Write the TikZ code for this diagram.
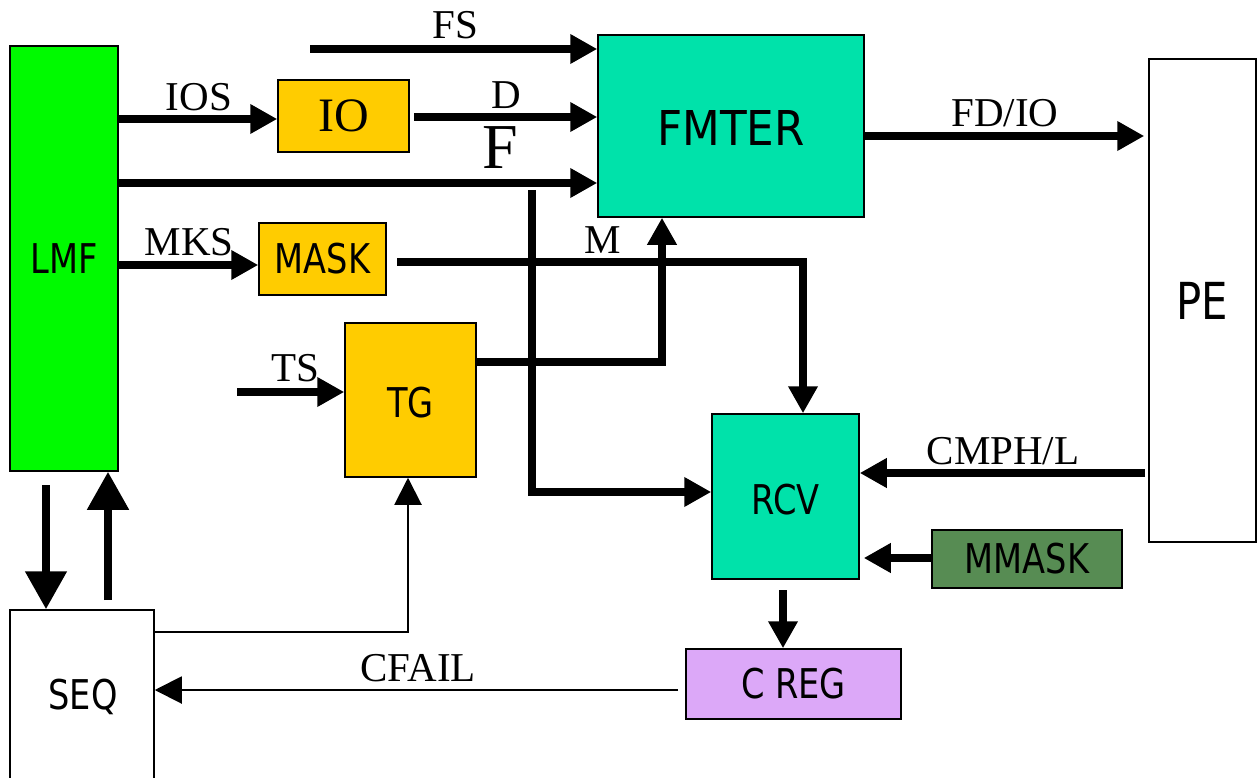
\documentclass[tikz,border=0pt]{standalone}
\usepackage{fontspec}
\setmainfont{Liberation Serif}
\newfontfamily\boxfont[FakeStretch=0.82]{DejaVu Sans}
\newfontfamily\boxfontw[FakeStretch=0.91]{DejaVu Sans}
\usetikzlibrary{arrows.meta,calc}
\definecolor{cgreen}{RGB}{0,250,0}
\definecolor{cyel}{RGB}{255,204,0}
\definecolor{cteal}{RGB}{0,226,170}
\definecolor{cdkgreen}{RGB}{87,140,83}
\definecolor{cviolet}{RGB}{220,168,248}
\tikzset{
  blk/.style={draw, line width=1.5pt, inner sep=0pt, font=\boxfont\fontsize{41}{41}\selectfont},
  btxt/.style={inner sep=0pt, font=\boxfont\fontsize{41}{41}\selectfont},
  sig/.style={inner sep=0pt, font=\fontsize{41}{41}\selectfont},
  thk/.style={line width=8pt, -{Triangle[length=27pt,width=28pt]}},
  big/.style={line width=8pt, -{Triangle[length=38pt,width=40pt]}},
  thn/.style={line width=2pt, -{Triangle[length=27pt,width=27pt]}},
}
\begin{document}
\begin{tikzpicture}[x=1pt,y=-1pt]
\useasboundingbox (0,0) rectangle (1257,778);
% blocks
\node[blk, fill=cgreen, minimum width=108pt, minimum height=425pt] (LMF) at (64,258.5) {LMF};
\node[blk, fill=cyel, minimum width=131pt, minimum height=72pt, font=\fontsize{48}{48}\selectfont] (IO) at (343.5,116) {IO};
\node[blk, fill=cteal, minimum width=266pt, minimum height=182pt] (FMTER) at (731,126) {};
\node[btxt, font=\boxfontw\fontsize{48}{48}\selectfont] (FMTERt) at (731,128) {FMTER};
\node[blk, fill=white, minimum width=107pt, minimum height=483pt, font=\boxfont\fontsize{51}{51}\selectfont] (PE) at (1202.5,300.5) {PE};
\node[blk, fill=cyel, minimum width=127pt, minimum height=72pt] (MASK) at (322.5,259) {MASK};
\node[blk, fill=cyel, minimum width=131pt, minimum height=154pt] (TG) at (410.5,400) {};
\node[btxt] (TGt) at (410.5,403) {TG};
\node[blk, fill=cteal, minimum width=147pt, minimum height=165pt] (RCV) at (785.5,496.5) {};
\node[btxt] (RCVt) at (785.5,500) {RCV};
\node[blk, fill=cdkgreen, minimum width=190pt, minimum height=58pt] (MMASK) at (1027,559) {MMASK};
\node[blk, fill=cviolet, minimum width=215pt, minimum height=70pt] (CREG) at (793.5,684) {C REG};
\node[blk, fill=white, minimum width=144pt, minimum height=190pt] (SEQ) at (82,705) {};
\node[btxt] (SEQt) at (83,697) {SEQ};
% helper coordinates
\coordinate (fsS) at (310,49);
\coordinate (ios) at (0,119);
\coordinate (dd) at (414,117);
\coordinate (lf) at (0,183);
\coordinate (fd) at (0,136);
\coordinate (mks) at (0,265);
\coordinate (mS) at (397,262);
\coordinate (mC) at (803,262);
\coordinate (vT) at (532,190);
\coordinate (tgo) at (662,362);
\coordinate (tsS) at (237,392);
\coordinate (dn) at (46,485);
\coordinate (up) at (108,600);
\coordinate (sq) at (408,632);
\coordinate (cf) at (678,690);
\coordinate (cm) at (1145,473);
\coordinate (mm) at (0,558);
\coordinate (rc) at (783,590);
% connectors
\draw[thk] (fsS) -- (FMTER.west |- fsS);
\draw[thk] (LMF.east |- ios) -- (IO.west |- ios);
\draw[thk] (dd) -- (FMTER.west |- dd);
\draw[thk] (LMF.east |- lf) -- (FMTER.west |- lf);
\draw[thk] (FMTER.east |- fd) -- ([xshift=-4pt]PE.west |- fd);
\draw[thk] (LMF.east |- mks) -- (MASK.west |- mks);
\draw[thk] (mS) -- (mC) -- (RCV.north -| mC);
\draw[thk] (vT) |- (RCV.west |- 0,492);
\draw[thk] (TG.east |- tgo) -| (FMTER.south -| tgo);
\draw[thk] (tsS) -- (TG.west |- tsS);
\draw[big] (dn) -- (SEQ.north -| dn);
\draw[big] (up) -- (LMF.south -| up);
\draw[thn] (SEQ.east |- sq) -| (TG.south -| sq);
\draw[thn] (cf) -- (SEQ.east |- cf);
\draw[thk] (cm) -- (RCV.east |- cm);
\draw[thk] (MMASK.west |- mm) -- ([xshift=4pt]RCV.east |- mm);
\draw[thk] (rc) -- (CREG.north -| rc);
% labels
\node[sig] (lFS) at (455,25) {FS};
\node[sig] (lIOS) at (199,97) {IOS};
\node[sig] (lD) at (506,95) {D};
\node[sig, font=\fontsize{64}{64}\selectfont] (lF) at (500,148) {F};
\node[sig] (lFD) at (1005,113) {FD/IO};
\node[sig] (lMKS) at (189,242) {MKS};
\node[sig] (lM) at (603,240) {M};
\node[sig] (lTS) at (295,368) {TS};
\node[sig] (lCM) at (1003,451) {CMPH/L};
\node[sig] (lCF) at (418,668) {CFAIL};
\end{tikzpicture}
\end{document}
